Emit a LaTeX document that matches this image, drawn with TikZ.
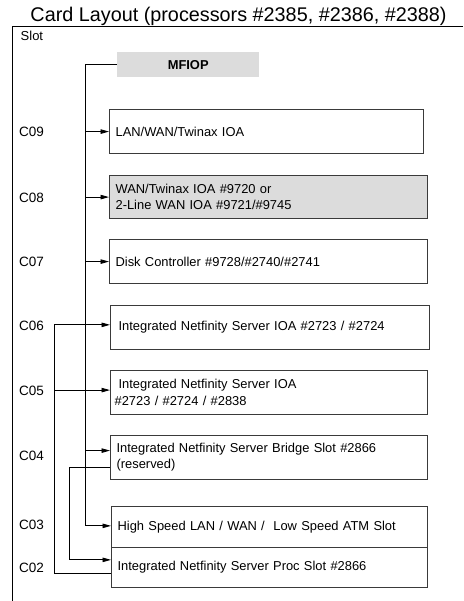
\documentclass[tikz,border=0pt]{standalone}
\usepackage{fontspec}
\setmainfont{Liberation Sans}
\usetikzlibrary{arrows.meta,calc}
\definecolor{boxgray}{HTML}{DCDCDC}
\definecolor{edge}{HTML}{3A3A3A}
\begin{document}
\begin{tikzpicture}[x=1pt,y=-1pt,
  every node/.style={font=\fontsize{12.9}{16}\selectfont},
  card/.style={draw=edge, line width=1.2pt, rectangle, anchor=north west,
    align=left, inner xsep=6pt, inner ysep=0pt},
  slotlbl/.style={anchor=base west, inner sep=0pt, font=\fontsize{13.5}{16}\selectfont},
  wire/.style={line width=0.9pt, black},
  arr/.style={wire, -{Triangle[length=8.5pt,width=4.5pt]}}]
\useasboundingbox (0,0) rectangle (463,601);
% title and frame
\node[anchor=base, inner sep=0pt, font=\fontsize{19.8}{22}\selectfont] (title) at (238.5,22) {Card Layout (processors \#2385, \#2386, \#2388)};
\coordinate (frTL) at (12.7,26.5);
\coordinate (frTR) at (463,26.5);
\coordinate (frBL) at (12.7,601);
\draw[line width=0.9pt] (frTR) -- (frTL) -- (frBL);
\node[anchor=base west, inner sep=0pt, font=\fontsize{13}{16}\selectfont] (slot) at (20.5,41) {Slot};
% MFIOP
\node[fill=boxgray, anchor=north west, minimum width=142pt, minimum height=24.5pt, inner sep=0pt,
  font=\fontsize{12.9}{14}\selectfont\bfseries] (mfiop) at (117,52.3) {MFIOP};
% cards
\node[card, minimum width=314pt, minimum height=44pt, text width=302pt] (c09) at (109,109) {LAN/WAN/Twinax IOA};
\node[card, fill=boxgray, minimum width=318pt, minimum height=43pt, text width=306pt] (c08) at (109,175) {WAN/Twinax IOA \#9720 or\\2-Line WAN IOA \#9721/\#9745};
\node[card, minimum width=318pt, minimum height=44pt, text width=306pt] (c07) at (109,239) {Disk Controller \#9728/\#2740/\#2741};
\node[card, minimum width=317pt, minimum height=44.5pt, text width=303pt, inner xsep=8pt] (c06) at (110,304.5) {Integrated Netfinity Server IOA \#2723 / \#2724};
\node[card, minimum width=317pt, minimum height=44pt, text width=309pt, inner xsep=3pt,
  font=\fontsize{12.9}{17}\selectfont] (c05) at (110,370) {\hspace*{4pt}Integrated Netfinity Server IOA\\\#2723 / \#2724 / \#2838};
\node[card, minimum width=317pt, minimum height=44pt, text width=305pt] (c04) at (110,435) {Integrated Netfinity Server Bridge Slot \#2866\\(reserved)};
\node[card, minimum width=316pt, minimum height=40.5pt, text width=304pt] (c03) at (111,506) {High Speed LAN / WAN /\ \ Low Speed ATM Slot};
\node[card, minimum width=316pt, minimum height=40.5pt, text width=304pt] (c02) at (111,546.5) {Integrated Netfinity Server Proc Slot \#2866};
% slot labels
\node[slotlbl] (l09) at (19,137) {C09};
\node[slotlbl] (l08) at (19,202.5) {C08};
\node[slotlbl] (l07) at (19,266.5) {C07};
\node[slotlbl] (l06) at (19,330) {C06};
\node[slotlbl] (l05) at (19,395) {C05};
\node[slotlbl] (l04) at (19,460) {C04};
\node[slotlbl] (l03) at (19,529.5) {C03};
\node[slotlbl] (l02) at (19,572.5) {C02};
% main bus (x=85)
\coordinate (bTop) at (85,0 |- mfiop.west);
\coordinate (b09) at (85,0 |- c09.west);
\coordinate (b08) at (85,0 |- c08.west);
\coordinate (b07) at (85,0 |- c07.west);
\coordinate (c04in) at ($(c04.west)+(0,-7)$);
\coordinate (b04) at (85,0 |- c04in);
\coordinate (c03in) at ($(c03.west)+(0,-1)$);
\coordinate (b03) at (85,0 |- c03in);
\draw[wire] (mfiop.west) -- (bTop);
\draw[arr] (bTop) -- (b03) -- (c03in);
\draw[arr] (b09) -- (c09.west);
\draw[arr] (b08) -- (c08.west);
\draw[arr] (b07) -- (c07.west);
\draw[arr] (b04) -- (c04in);
% second bus (x=54)
\coordinate (c06in) at ($(c06.west)+(0,-2.5)$);
\coordinate (s06) at (54.3,0 |- c06in);
\coordinate (c05in) at ($(c05.west)+(0,-2.5)$);
\coordinate (s05) at (54.3,0 |- c05in);
\coordinate (c02a) at ($(c02.west)+(0,6.5)$);
\coordinate (s02) at (54.3,0 |- c02a);
\draw[arr] (s06) -- (c06in);
\draw[arr] (s05) -- (c05in);
\draw[wire] (s06) -- (s02) -- (c02a);
% bridge link (x=69)
\coordinate (c04out) at ($(c04.west)+(0,9.7)$);
\coordinate (k04) at (69.3,0 |- c04out);
\coordinate (c02b) at ($(c02.west)+(0,-7.5)$);
\coordinate (k02) at (69.3,0 |- c02b);
\draw[arr] (c04out) -- (k04) -- (k02) -- (c02b);
\end{tikzpicture}
\end{document}
